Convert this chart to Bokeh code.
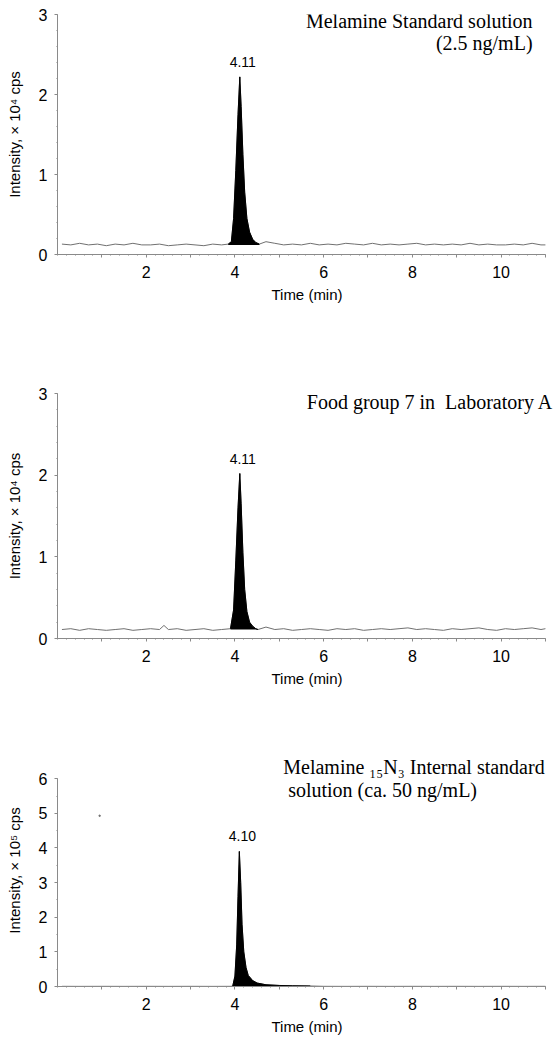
from bokeh.plotting import figure
from bokeh.models import Label, FixedTicker, Range1d
from bokeh.layouts import column
from bokeh.embed import file_html
from bokeh.resources import INLINE

# ---------------- data ----------------
# Panel 1: Melamine standard solution (intensity x10^4 cps)
t1 = [0.1, 0.3, 0.5, 0.7, 0.9, 1.1, 1.3, 1.5, 1.7, 1.9, 2.1, 2.3, 2.5, 2.7, 2.9, 3.1, 3.3, 3.5, 3.7,
      3.85, 3.92, 3.97, 4.02, 4.07, 4.11, 4.14, 4.18, 4.22, 4.27, 4.33, 4.40, 4.47, 4.55,
      4.7, 4.9, 5.1, 5.3, 5.5, 5.7, 5.9, 6.1, 6.3, 6.5, 6.7, 6.9, 7.1, 7.3, 7.5, 7.7, 7.9, 8.1,
      8.3, 8.5, 8.7, 8.9, 9.1, 9.3, 9.5, 9.7, 9.9, 10.1, 10.3, 10.5, 10.7, 10.9, 11.0]
i1 = [0.13, 0.12, 0.14, 0.12, 0.13, 0.11, 0.13, 0.12, 0.14, 0.12, 0.12, 0.13, 0.11, 0.12, 0.13, 0.12, 0.11, 0.13, 0.12,
      0.13, 0.16, 0.45, 1.05, 1.75, 2.22, 1.85, 1.25, 0.78, 0.45, 0.28, 0.19, 0.15, 0.13,
      0.16, 0.14, 0.12, 0.13, 0.12, 0.14, 0.12, 0.13, 0.12, 0.14, 0.13, 0.12, 0.14, 0.12, 0.13, 0.12, 0.13, 0.14,
      0.12, 0.13, 0.12, 0.13, 0.12, 0.14, 0.12, 0.13, 0.12, 0.12, 0.13, 0.12, 0.14, 0.12, 0.12]
peak1_window = [3.85, 4.55]
peak1_base = 0.12
peak1_rt = "4.11"

# Panel 2: Food group 7 in Laboratory A (intensity x10^4 cps)
t2 = [0.1, 0.3, 0.5, 0.7, 0.9, 1.1, 1.3, 1.5, 1.7, 1.9, 2.1, 2.3, 2.4, 2.5, 2.7, 2.9, 3.1, 3.3, 3.5, 3.7,
      3.9, 3.97, 4.02, 4.07, 4.11, 4.14, 4.18, 4.22, 4.27, 4.33, 4.40, 4.47, 4.52,
      4.7, 4.9, 5.1, 5.3, 5.5, 5.7, 5.9, 6.1, 6.3, 6.5, 6.7, 6.9, 7.1, 7.3, 7.5, 7.7, 7.9, 8.1,
      8.3, 8.5, 8.7, 8.9, 9.1, 9.3, 9.5, 9.7, 9.9, 10.1, 10.3, 10.5, 10.7, 10.9, 11.0]
i2 = [0.11, 0.12, 0.10, 0.12, 0.11, 0.10, 0.11, 0.12, 0.10, 0.11, 0.12, 0.11, 0.16, 0.11, 0.12, 0.10, 0.11, 0.12, 0.10, 0.11,
      0.12, 0.35, 0.95, 1.60, 2.02, 1.65, 1.05, 0.60, 0.33, 0.20, 0.15, 0.12, 0.11,
      0.14, 0.11, 0.12, 0.10, 0.11, 0.12, 0.11, 0.10, 0.12, 0.11, 0.12, 0.10, 0.11, 0.12, 0.11, 0.12, 0.13, 0.11,
      0.12, 0.11, 0.10, 0.12, 0.11, 0.12, 0.13, 0.11, 0.10, 0.12, 0.11, 0.12, 0.13, 0.11, 0.12]
peak2_window = [3.9, 4.52]
peak2_base = 0.11
peak2_rt = "4.11"

# Panel 3: Melamine 15N3 internal standard (intensity x10^5 cps)
t3 = [0.1, 0.5, 1.0, 1.5, 2.0, 2.5, 3.0, 3.5, 3.9,
      3.95, 4.00, 4.04, 4.07, 4.10, 4.13, 4.16, 4.20, 4.25, 4.30, 4.40, 4.50, 4.70, 5.00, 5.30, 5.70,
      6.0, 6.5, 7.0, 7.5, 8.0, 8.5, 9.0, 9.5, 10.0, 10.5, 11.0]
i3 = [0.005, 0.004, 0.005, 0.004, 0.005, 0.004, 0.005, 0.004, 0.005,
      0.01, 0.30, 1.20, 2.60, 3.90, 3.00, 1.80, 1.00, 0.55, 0.32, 0.17, 0.10, 0.05, 0.03, 0.02, 0.015,
      0.005, 0.004, 0.005, 0.004, 0.005, 0.004, 0.005, 0.004, 0.005, 0.004, 0.005]
peak3_window = [3.95, 5.7]
peak3_base = 0.0
peak3_rt = "4.10"
stray3_t = [0.95]
stray3_i = [4.93]

x_major = [1, 2, 3, 4, 5, 6, 7, 8, 9, 10, 11]
x_labels = {1: "", 2: "2", 3: "", 4: "4", 5: "", 6: "6", 7: "", 8: "8", 9: "", 10: "10", 11: ""}
y_ticks_a = [0, 1, 2, 3]
y_ticks_b = [0, 1, 2, 3, 4, 5, 6]

titles1 = ["Melamine Standard solution", "(2.5 ng/mL)"]
titles2 = ["Food group 7 in\u00a0 Laboratory A"]
titles3 = ["Melamine \u2081\u2085N\u2083 Internal standard", "solution (ca. 50 ng/mL)"]
ylab_a = "Intensity, \u00d7 10\u2074 cps"
ylab_b = "Intensity, \u00d7 10\u2075 cps"
xlab = "Time (min)"

# ---------------- styling ----------------
SANS = "Liberation Sans"
SERIF = "Liberation Serif"
AXIS_GREY = "#8a8a8a"
TRACE_GREY = "#707070"
W = 557


def minor_steps(lo, hi, step):
    out = []
    v = lo
    while v <= hi + 1e-9:
        out.append(round(v, 3))
        v += step
    return out


def make_panel(height, btop, bbot, ymax, yview, yticks, ylabel, yminor_step):
    p = figure(width=W, height=height, x_range=Range1d(0, 11.25), y_range=Range1d(0, yview),
               output_backend="svg", toolbar_location=None,
               min_border_left=57, min_border_right=1, min_border_top=btop, min_border_bottom=bbot)
    p.title.text = ""
    p.outline_line_color = None
    p.xgrid.visible = False
    p.ygrid.visible = False
    p.background_fill_color = "white"
    p.border_fill_color = "white"

    xa = p.xaxis[0]
    xa.ticker = FixedTicker(ticks=x_major, minor_ticks=minor_steps(0, 11, 0.2))
    xa.major_label_overrides = x_labels
    xa.axis_label = xlab
    xa.bounds = (0, 11)
    ya = p.yaxis[0]
    ya.ticker = FixedTicker(ticks=yticks, minor_ticks=minor_steps(0, ymax, yminor_step))
    ya.axis_label = ylabel
    ya.bounds = (0, ymax)
    for ax in (xa, ya):
        ax.axis_line_color = AXIS_GREY
        ax.axis_line_width = 1
        ax.major_tick_line_color = AXIS_GREY
        ax.minor_tick_line_color = AXIS_GREY
        ax.major_tick_out = 3
        ax.major_tick_in = 0
        ax.minor_tick_out = 1
        ax.minor_tick_in = 0
        ax.major_label_text_font = SANS
        ax.major_label_text_font_size = "16px"
        ax.major_label_text_color = "black"
        ax.axis_label_text_font = SANS
        ax.axis_label_text_font_size = "15px"
        ax.axis_label_text_font_style = "normal"
        ax.axis_label_text_color = "black"
    xa.major_label_standoff = 8
    xa.axis_label_standoff = 5
    ya.major_label_standoff = 7
    ya.axis_label_standoff = 13
    return p


def add_trace(p, t, inten, window, base, rt):
    p.line(t, inten, line_color=TRACE_GREY, line_width=1)
    pt = [a for a in t if window[0] <= a <= window[1]]
    pi = [b for a, b in zip(t, inten) if window[0] <= a <= window[1]]
    p.varea(x=pt, y1=[base] * len(pt), y2=pi, fill_color="black")
    p.line(pt, pi, line_color="black", line_width=1)
    apex = max(pi)
    apex_t = pt[pi.index(apex)]
    p.add_layout(Label(x=apex_t, y=apex, text=rt, text_font=SANS, text_font_size="14px",
                       text_color="black", text_align="center", text_baseline="bottom",
                       y_offset=10, x_offset=3))


def add_title(p, x, y, text, align):
    p.add_layout(Label(x=x, y=y, text=text, text_font=SERIF, text_font_size="20px",
                       text_color="black", text_align=align, text_baseline="middle"))


p1 = make_panel(330, 14, 76, 3, 3, y_ticks_a, ylab_a, 0.2)
add_trace(p1, t1, i1, peak1_window, peak1_base, peak1_rt)
add_title(p1, 10.71, 2.925, titles1[0], "right")
add_title(p1, 10.71, 2.64, titles1[1], "right")

p2 = make_panel(370, 63, 62, 3, 3, y_ticks_a, ylab_a, 0.2)
add_trace(p2, t2, i2, peak2_window, peak2_base, peak2_rt)
add_title(p2, 11.18, 2.89, titles2[0], "right")

p3 = make_panel(337, 54, 51, 6, 6.7, y_ticks_b, ylab_b, 0.5)
add_trace(p3, t3, i3, peak3_window, peak3_base, peak3_rt)
p3.scatter(stray3_t, stray3_i, size=1.5, color=TRACE_GREY)
add_title(p3, 5.09, 6.35, titles3[0], "left")
add_title(p3, 5.2, 5.68, titles3[1], "left")

layout = column(p1, p2, p3, spacing=0)
open("out.html", "w").write(file_html(layout, INLINE))
